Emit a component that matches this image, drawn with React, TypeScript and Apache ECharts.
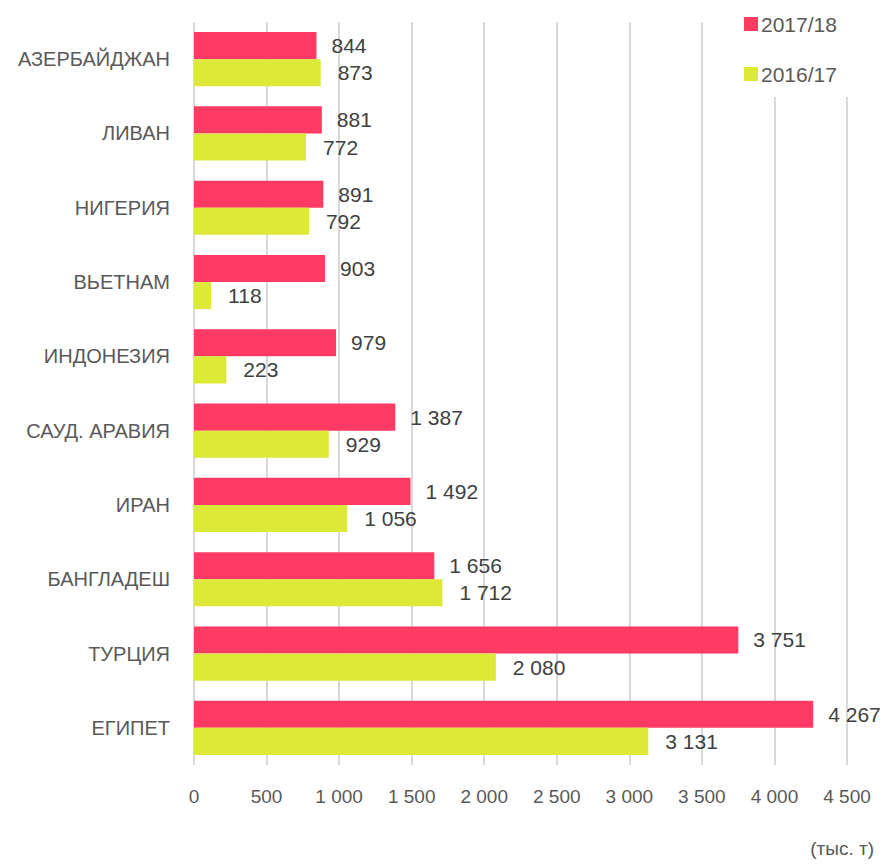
import React, { useEffect, useRef } from "react";
import * as echarts from "echarts";

const categories = [
  "АЗЕРБАЙДЖАН",
  "ЛИВАН",
  "НИГЕРИЯ",
  "ВЬЕТНАМ",
  "ИНДОНЕЗИЯ",
  "САУД. АРАВИЯ",
  "ИРАН",
  "БАНГЛАДЕШ",
  "ТУРЦИЯ",
  "ЕГИПЕТ",
];
const values2017_18 = [844, 881, 891, 903, 979, 1387, 1492, 1656, 3751, 4267];
const values2016_17 = [873, 772, 792, 118, 223, 929, 1056, 1712, 2080, 3131];
const seriesNames = ["2017/18", "2016/17"];
const unitLabel = "(тыс. т)";

const FONT = '"Liberation Sans", Arial, sans-serif';

const fmt = (v: number) => String(v).replace(/\B(?=(\d{3})+(?!\d))/g, " ");

export default function App() {
  const ref = useRef<HTMLDivElement>(null);
  useEffect(() => {
    document.body.style.margin = "0";
    if (!ref.current) return;
    const chart = echarts.init(ref.current, undefined, { renderer: "svg" });
    chart.setOption({
      animation: false,
      backgroundColor: "#ffffff",
      textStyle: { fontFamily: FONT },
      grid: { left: 194, right: 35, top: 22, bottom: 100, containLabel: false },
      legend: {
        orient: "vertical",
        left: 710,
        top: 0,
        padding: [11, 40, 10, 34],
        itemGap: 24,
        itemWidth: 14,
        itemHeight: 14,
        backgroundColor: "#ffffff",
        icon: "rect",
        textStyle: { fontFamily: FONT, fontSize: 21, color: "#595959", lineHeight: 26, padding: [0, 0, 0, -2] },
        data: seriesNames,
      },
      xAxis: {
        type: "value",
        min: 0,
        max: 4500,
        interval: 500,
        axisLine: { show: false },
        axisTick: { show: false },
        splitLine: { show: true, lineStyle: { color: "#d9d9d9", width: 2 } },
        axisLabel: {
          fontFamily: FONT,
          fontSize: 19,
          color: "#595959",
          margin: 22,
          formatter: (v: number) => fmt(v),
        },
      },
      yAxis: {
        type: "category",
        data: categories,
        inverse: true,
        axisLine: { show: false },
        axisTick: { show: false },
        axisLabel: { fontFamily: FONT, fontSize: 20, color: "#595959", margin: 24 },
      },
      series: [
        {
          name: seriesNames[0],
          type: "bar",
          data: values2017_18,
          itemStyle: { color: "#ff3b63" },
          barGap: "0%",
          barCategoryGap: "27%",
          label: {
            show: true,
            position: "right",
            distance: 15,
            fontFamily: FONT,
            fontSize: 21,
            color: "#404040",
            formatter: (p: any) => fmt(p.value),
          },
        },
        {
          name: seriesNames[1],
          type: "bar",
          data: values2016_17,
          itemStyle: { color: "#dce936" },
          barGap: "0%",
          barCategoryGap: "27%",
          label: {
            show: true,
            position: "right",
            distance: 17,
            fontFamily: FONT,
            fontSize: 21,
            color: "#404040",
            formatter: (p: any) => fmt(p.value),
          },
        },
      ],
      graphic: [
        {
          type: "text",
          right: 8,
          top: 839,
          style: { text: unitLabel, fontFamily: FONT, fontSize: 19, fill: "#595959" },
        },
      ],
    });
    return () => chart.dispose();
  }, []);
  return <div ref={ref} style={{ width: 882, height: 865 }} />;
}
